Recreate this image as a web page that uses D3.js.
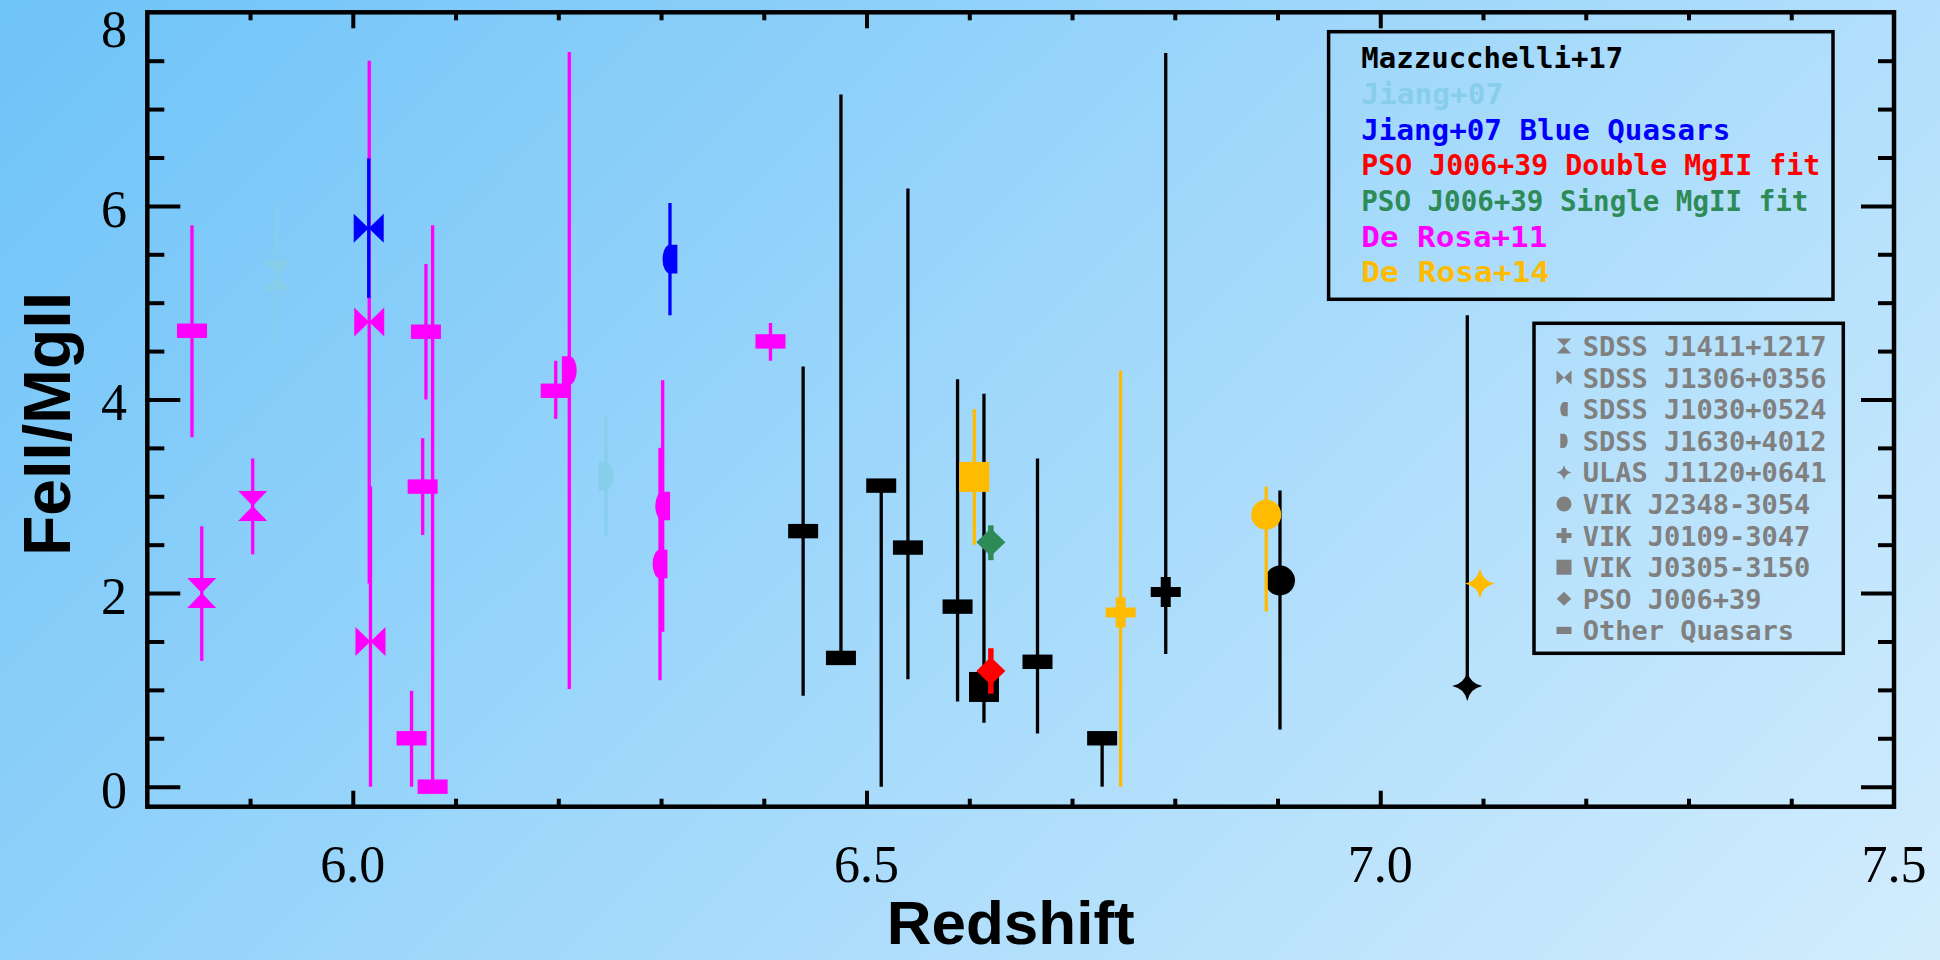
<!DOCTYPE html>
<html><head><meta charset="utf-8">
<script src="https://cdn.jsdelivr.net/npm/d3@7"></script>
<style>html,body{margin:0;padding:0;background:#9fd7fa;} svg{display:block}</style>
</head><body><svg id="c" width="1940" height="960"></svg>
<script>
// ---------------- DATA ----------------
const xTickValues = [6.0, 6.5, 7.0, 7.5];
const xTickLabels = ["6.0", "6.5", "7.0", "7.5"];
const yTickValues = [0, 2, 4, 6, 8];
const yTickLabels = ["0", "2", "4", "6", "8"];

const legendSeries = ["Mazzucchelli+17", "Jiang+07", "Jiang+07 Blue Quasars",
  "PSO J006+39 Double MgII fit", "PSO J006+39 Single MgII fit", "De Rosa+11", "De Rosa+14"];
const objectNames = ["SDSS J1411+1217", "SDSS J1306+0356", "SDSS J1030+0524", "SDSS J1630+4012",
  "ULAS J1120+0641", "VIK J2348-3054", "VIK J0109-3047", "VIK J0305-3150", "PSO J006+39", "Other Quasars"];

// [redshift, FeII/MgII, lower, upper, object]
const deRosa11 = [
  [5.8435, 4.71, 3.61, 5.80, "Other Quasars"],
  [5.8530, 2.00, 1.30, 2.69, "SDSS J1411+1217"],
  [5.9026, 2.90, 2.40, 3.39, "SDSS J1411+1217"],
  [6.0160, 4.80, 2.10, 7.50, "SDSS J1306+0356"],
  [6.0172, 1.50, 0.00, 3.10, "SDSS J1306+0356"],
  [6.0572, 0.50, 0.00, 0.99, "Other Quasars"],
  [6.0680, 3.10, 2.60, 3.60, "Other Quasars"],
  [6.0712, 4.70, 4.00, 5.40, "Other Quasars"],
  [6.0777, 0.00, 0.00, 5.80, "Other Quasars"],
  [6.1975, 4.09, 3.80, 4.40, "Other Quasars"],
  [6.2107, 4.30, 1.01, 7.59, "SDSS J1630+4012"],
  [6.3016, 2.90, 1.60, 4.20, "SDSS J1030+0524"],
  [6.2990, 2.30, 1.10, 3.50, "SDSS J1030+0524"],
  [6.4065, 4.60, 4.40, 4.79, "Other Quasars"]
];
const mazzucchelli17 = [
  [6.4383, 2.64, 0.94, 4.34, "Other Quasars"],
  [6.4751, 1.33, 1.33, 7.15, "Other Quasars"],
  [6.5143, 3.11, 0.00, 3.11, "Other Quasars"],
  [6.5403, 2.47, 1.11, 6.18, "Other Quasars"],
  [6.5886, 1.86, 0.88, 4.21, "Other Quasars"],
  [6.6143, 1.03, 0.66, 4.06, "VIK J0305-3150"],
  [6.6664, 1.29, 0.55, 3.39, "Other Quasars"],
  [6.7293, 0.50, 0.00, 0.50, "Other Quasars"],
  [6.7912, 2.01, 1.37, 7.58, "VIK J0109-3047"],
  [6.9024, 2.13, 0.59, 3.06, "VIK J2348-3054"],
  [7.0847, 1.04, 1.04, 4.87, "ULAS J1120+0641"]
];
const jiang07 = [
  [5.9265, 5.28, 4.55, 5.99, "SDSS J1411+1217"],
  [6.2464, 3.21, 2.59, 3.83, "SDSS J1630+4012"]
];
const jiang07Blue = [
  [6.0155, 5.77, 5.05, 6.49, "SDSS J1306+0356"],
  [6.3087, 5.45, 4.87, 6.03, "SDSS J1030+0524"]
];
const deRosa14 = [
  [6.6049, 3.20, 2.50, 3.90, "VIK J0305-3150"],
  [6.7473, 1.80, 0.00, 4.30, "VIK J0109-3047"],
  [6.8890, 2.81, 1.81, 3.10, "VIK J2348-3054"],
  [7.0970, 2.10, 2.10, 2.10, "ULAS J1120+0641"]
];
const psoSingle = [[6.6210, 2.525, 2.34, 2.70, "PSO J006+39"]];
const psoDouble = [[6.6210, 1.195, 0.96, 1.43, "PSO J006+39"]];

// ---------------- STYLE ----------------
const seriesColor = {
  "Mazzucchelli+17": "#000000", "Jiang+07": "#87CEEB", "Jiang+07 Blue Quasars": "#0000FF",
  "PSO J006+39 Double MgII fit": "#FF0000", "PSO J006+39 Single MgII fit": "#2E8B57",
  "De Rosa+11": "#FF00FF", "De Rosa+14": "#FFBB00"
};
const legendTextWidth = {
  "Mazzucchelli+17": 262, "Jiang+07": 142, "Jiang+07 Blue Quasars": 369,
  "PSO J006+39 Double MgII fit": 459, "PSO J006+39 Single MgII fit": 447,
  "De Rosa+11": 186, "De Rosa+14": 188
};
const objectSymbol = {
  "SDSS J1411+1217": "hourglass", "SDSS J1306+0356": "bowtie", "SDSS J1030+0524": "halfL",
  "SDSS J1630+4012": "halfR", "ULAS J1120+0641": "star", "VIK J2348-3054": "circle",
  "VIK J0109-3047": "cross", "VIK J0305-3150": "square", "PSO J006+39": "diamond", "Other Quasars": "rect"
};
// drawing order (bottom to top)
const drawOrder = [
  [deRosa11, "De Rosa+11", 3.3],
  [mazzucchelli17, "Mazzucchelli+17", 3.3],
  [jiang07, "Jiang+07", 3],
  [jiang07Blue, "Jiang+07 Blue Quasars", 3.3],
  [deRosa14, "De Rosa+14", 3.3],
  [psoSingle, "PSO J006+39 Single MgII fit", 5.5],
  [psoDouble, "PSO J006+39 Double MgII fit", 5.5]
];

function symbolPath(type, k) {
  let w, h, t;
  switch (type) {
    case "rect": w = 15 * k; h = 7.2 * k; return `M${-w},${-h}H${w}V${h}H${-w}Z`;
    case "square": w = 15 * k; return `M${-w},${-w}H${w}V${w}H${-w}Z`;
    case "circle": w = 15 * k; return `M${-w},0A${w},${w} 0 1,0 ${w},0A${w},${w} 0 1,0 ${-w},0Z`;
    case "diamond": w = 14.5 * k; h = 14 * k; return `M0,${-h}L${w},0L0,${h}L${-w},0Z`;
    case "cross": w = 15 * k; t = 5 * k;
      return `M${-t},${-w}H${t}V${-t}H${w}V${t}H${t}V${w}H${-t}V${t}H${-w}V${-t}H${-t}Z`;
    case "star": w = 15 * k; t = 2.5 * k;
      return `M0,${-w}Q${t},${-t} ${w},0Q${t},${t} 0,${w}Q${-t},${t} ${-w},0Q${-t},${-t} 0,${-w}Z`;
    case "hourglass": w = 14.5 * k; h = 15 * k;
      return `M${-w},${-h}L${w},${-h}L0,0ZM${-w},${h}L${w},${h}L0,0Z`;
    case "bowtie": w = 15 * k; h = 14.5 * k;
      return `M${-w},${-h}L${-w},${h}L0,0ZM${w},${-h}L${w},${h}L0,0Z`;
    case "halfL": w = 7.4 * k; h = 14.3 * k;
      return `M${w},${-h}L0,${-h}A${w},${h} 0 0,0 0,${h}L${w},${h}Z`;
    case "halfR": w = 7.4 * k; h = 14.3 * k;
      return `M${-w},${-h}L0,${-h}A${w},${h} 0 0,1 0,${h}L${-w},${h}Z`;
  }
}

// ---------------- CHART ----------------
const svg = d3.select("#c");
const defs = svg.append("defs");
const grad = defs.append("linearGradient").attr("id", "bg")
  .attr("gradientUnits", "userSpaceOnUse").attr("x1", 0).attr("y1", 0).attr("x2", 1500).attr("y2", 1500);
grad.append("stop").attr("offset", 0).attr("stop-color", "#6ec3f8");
grad.append("stop").attr("offset", 0.5).attr("stop-color", "#a3d9fb");
grad.append("stop").attr("offset", 1).attr("stop-color", "#d6eefd");
svg.append("rect").attr("width", 1940).attr("height", 960).attr("fill", "url(#bg)");

const L = 147.3, R = 1894, T = 12.3, B = 806.7;
const x = d3.scaleLinear().domain([5.8, 7.5]).range([L, R]);
const y = d3.scaleLinear().domain([-0.207, 8]).range([B, T]);

const xMajor = [6.0, 6.5, 7.0];
const xMinor = d3.range(59, 75).map(d => d / 10).filter(v => !xMajor.some(m => Math.abs(m - v) < 1e-6));
const yMajor = [0, 2, 4, 6];
const yMinor = d3.range(1, 16).map(d => d / 2).filter(v => v % 2 !== 0);

function axisG(axis, tr) {
  const g = svg.append("g").attr("transform", tr).call(axis);
  g.select(".domain").remove();
  g.selectAll(".tick line").attr("stroke", "#000").attr("stroke-width", 4);
  g.selectAll(".tick text").remove();
}
axisG(d3.axisBottom(x).tickValues(xMajor).tickSize(-16), `translate(0,${B})`);
axisG(d3.axisBottom(x).tickValues(xMinor).tickSize(-8), `translate(0,${B})`);
axisG(d3.axisTop(x).tickValues(xMajor).tickSize(-16), `translate(0,${T})`);
axisG(d3.axisTop(x).tickValues(xMinor).tickSize(-8), `translate(0,${T})`);
axisG(d3.axisLeft(y).tickValues(yMajor).tickSize(-33), `translate(${L},0)`);
axisG(d3.axisLeft(y).tickValues(yMinor).tickSize(-17), `translate(${L},0)`);
axisG(d3.axisRight(y).tickValues(yMajor).tickSize(-33), `translate(${R},0)`);
axisG(d3.axisRight(y).tickValues(yMinor).tickSize(-16), `translate(${R},0)`);

svg.append("rect").attr("x", L).attr("y", T).attr("width", R - L).attr("height", B - T)
  .attr("fill", "none").attr("stroke", "#000").attr("stroke-width", 4.5);

// tick labels
svg.append("g").selectAll("text").data(xTickValues).join("text")
  .attr("x", d => x(d)).attr("y", 881.7).attr("text-anchor", "middle")
  .attr("font-family", "Liberation Serif, serif").attr("font-size", 52).attr("fill", "#000")
  .text((d, i) => xTickLabels[i]);
svg.append("g").selectAll("text").data(yTickValues).join("text")
  .attr("x", 127).attr("y", d => Math.max(y(d) + 21, T + 34.4)).attr("text-anchor", "end")
  .attr("font-family", "Liberation Serif, serif").attr("font-size", 52).attr("fill", "#000")
  .text((d, i) => yTickLabels[i]);

// axis titles
svg.append("text").attr("x", 1010.7).attr("y", 944).attr("text-anchor", "middle")
  .attr("font-family", "Liberation Sans, Arial, sans-serif").attr("font-weight", "bold")
  .attr("font-size", 62).text("Redshift");
svg.append("text").attr("transform", "translate(70,424) rotate(-90)").attr("text-anchor", "middle")
  .attr("font-family", "Liberation Sans, Arial, sans-serif").attr("font-weight", "bold")
  .attr("font-size", 66).text("FeII/MgII");

// data
const plot = svg.append("g");
drawOrder.forEach(([rows, name, sw]) => {
  const col = seriesColor[name];
  const g = plot.append("g");
  g.selectAll("line").data(rows.filter(r => r[3] > r[2])).join("line")
    .attr("x1", d => x(d[0])).attr("x2", d => x(d[0]))
    .attr("y1", d => y(d[2])).attr("y2", d => y(d[3]))
    .attr("stroke", col).attr("stroke-width", sw);
  g.selectAll("path").data(rows).join("path")
    .attr("transform", d => `translate(${x(d[0])},${y(d[1])})`)
    .attr("d", d => symbolPath(objectSymbol[d[4]], 1))
    .attr("fill", col);
});

// legend 1
const lg1 = svg.append("g");
lg1.append("rect").attr("x", 1328.6).attr("y", 31.7).attr("width", 504.4).attr("height", 267.6)
  .attr("fill", "none").attr("stroke", "#000").attr("stroke-width", 3.5);
lg1.selectAll("text").data(legendSeries).join("text")
  .attr("x", 1361.3).attr("y", (d, i) => 68.3 + i * 35.67)
  .attr("font-family", "DejaVu Sans Mono, monospace").attr("font-weight", "bold")
  .attr("font-size", 29).attr("fill", d => seriesColor[d])
  .attr("textLength", d => legendTextWidth[d]).attr("lengthAdjust", "spacingAndGlyphs")
  .text(d => d);

// legend 2
const lg2 = svg.append("g");
lg2.append("rect").attr("x", 1534).attr("y", 323.3).attr("width", 309.3).attr("height", 330)
  .attr("fill", "none").attr("stroke", "#000").attr("stroke-width", 3.5);
const items = lg2.selectAll("g").data(objectNames).join("g")
  .attr("transform", (d, i) => `translate(0,${346 + i * 31.6})`);
items.append("path").attr("transform", "translate(1564,0)")
  .attr("d", d => symbolPath(objectSymbol[d], 0.5)).attr("fill", "#808080");
items.append("text").attr("x", 1582.7).attr("y", 10)
  .attr("font-family", "DejaVu Sans Mono, monospace").attr("font-weight", "bold")
  .attr("font-size", 27).attr("fill", "#808080").text(d => d);
</script></body></html>
